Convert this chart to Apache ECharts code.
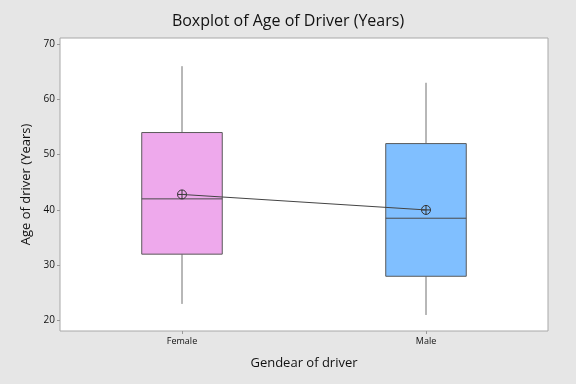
<!DOCTYPE html>
<html>
<head>
<meta charset="utf-8">
<script src="https://cdn.jsdelivr.net/npm/echarts@6/dist/echarts.min.js"></script>
<style>html,body{margin:0;padding:0;background:#E6E6E6;}#c{width:576px;height:384px;}</style>
</head>
<body>
<div id="c"></div>
<script>
const categories = ['Female', 'Male'];
const whiskerLow = [23, 21];
const q1 = [32, 28];
const median = [42, 38.5];
const q3 = [54, 52];
const whiskerHigh = [66, 63];
const means = [42.8, 40.0];
const boxColors = ['#EEA9EC', '#80BFFF'];
const yTicks = [20, 30, 40, 50, 60, 70];

const FONT = '"Open Sans", "Noto Sans", sans-serif';
const chart = echarts.init(document.getElementById('c'), null, {renderer: 'canvas'});

const boxData = categories.map((c, i) => [i, whiskerLow[i], q1[i], median[i], q3[i], whiskerHigh[i], means[i]]);

function renderBox(params, api) {
  const i = api.value(0);
  const x = api.coord([i, 0])[0];
  const bw = api.size([1, 0])[0] * 0.33;
  const pLow = api.coord([i, api.value(1)]);
  const pQ1 = api.coord([i, api.value(2)]);
  const pMed = api.coord([i, api.value(3)]);
  const pQ3 = api.coord([i, api.value(4)]);
  const pHigh = api.coord([i, api.value(5)]);
  const pMean = api.coord([i, api.value(6)]);
  const lineStyle = {stroke: '#707070', lineWidth: 1, fill: null};
  const r = 4.5;
  return {
    type: 'group',
    children: [
      {type: 'line', shape: {x1: x, y1: pHigh[1], x2: x, y2: pQ3[1]}, style: lineStyle},
      {type: 'line', shape: {x1: x, y1: pQ1[1], x2: x, y2: pLow[1]}, style: lineStyle},
      {type: 'rect', shape: {x: x - bw / 2, y: pQ3[1], width: bw, height: pQ1[1] - pQ3[1]},
        style: {fill: boxColors[i], stroke: '#5A5A5A', lineWidth: 1}},
      {type: 'line', shape: {x1: x - bw / 2, y1: pMed[1], x2: x + bw / 2, y2: pMed[1]},
        style: {stroke: '#4A4A4A', lineWidth: 1}},
      {type: 'circle', shape: {cx: x, cy: pMean[1], r: r}, style: {fill: null, stroke: '#333', lineWidth: 1}, z2: 10},
      {type: 'line', shape: {x1: x - r, y1: pMean[1], x2: x + r, y2: pMean[1]}, style: {stroke: '#333', lineWidth: 1}, z2: 10},
      {type: 'line', shape: {x1: x, y1: pMean[1] - r, x2: x, y2: pMean[1] + r}, style: {stroke: '#333', lineWidth: 1}, z2: 10}
    ]
  };
}

chart.setOption({
  backgroundColor: '#E6E6E6',
  animation: false,
  title: {
    text: 'Boxplot of Age of Driver (Years)',
    left: 'center', top: 8,
    textStyle: {fontFamily: FONT, fontSize: 16, fontWeight: 'normal', color: '#111'}
  },
  grid: {left: 60, right: 28, top: 38, bottom: 53, show: true, backgroundColor: '#FFFFFF', borderColor: '#A8A8A8', borderWidth: 1},
  xAxis: {
    type: 'category', data: categories, boundaryGap: true,
    name: 'Gendear of driver', nameLocation: 'middle', nameGap: 26,
    nameTextStyle: {fontFamily: FONT, fontSize: 13, color: '#111'},
    axisLine: {show: false},
    axisTick: {show: true, alignWithLabel: true, length: 3, lineStyle: {color: '#999'}},
    axisLabel: {fontFamily: FONT, fontSize: 9, color: '#111', margin: 6},
    splitLine: {show: false}
  },
  yAxis: {
    type: 'value', min: 18.1, max: 71.1,
    name: 'Age of driver (Years)', nameLocation: 'middle', nameGap: 22, nameRotate: 90,
    nameTextStyle: {fontFamily: FONT, fontSize: 13, color: '#111'},
    axisLine: {show: false},
    axisTick: {show: true, length: 3, lineStyle: {color: '#999'}, customValues: yTicks},
    axisLabel: {fontFamily: FONT, fontSize: 10, color: '#111', margin: 5, customValues: yTicks},
    splitLine: {show: false}
  },
  series: [
    {
      type: 'custom',
      renderItem: renderBox,
      data: boxData,
      encode: {x: 0, y: [1, 2, 3, 4, 5, 6]},
      z: 2
    },
    {
      type: 'line',
      data: means.map((m, i) => [i, m]),
      symbol: 'none',
      lineStyle: {color: '#444', width: 1},
      z: 3
    }
  ]
});
</script>
</body>
</html>
